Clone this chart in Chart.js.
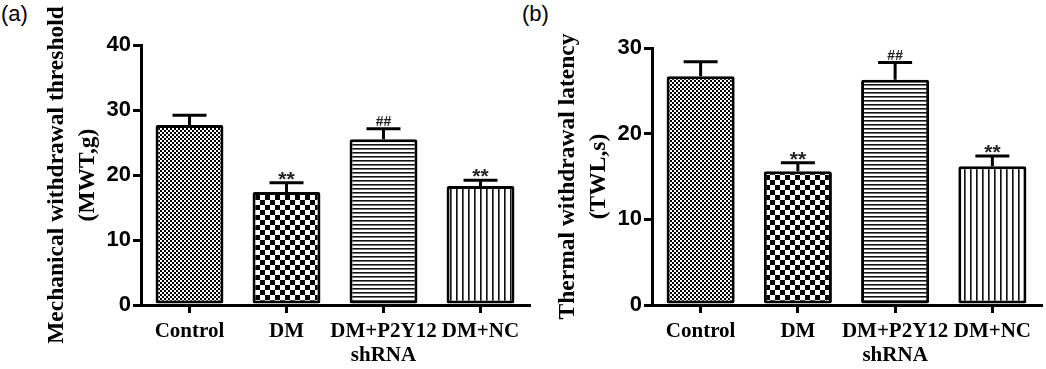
<!DOCTYPE html>
<html>
<head>
<meta charset="utf-8">
<script src="https://cdn.jsdelivr.net/npm/chart.js@4.4.1/dist/chart.umd.min.js"></script>
<style>
  body { margin: 0; background: #fff; width: 1046px; height: 369px; overflow: hidden; position: relative; }
  canvas { position: absolute; top: 0; }
  .tag { position: absolute; top: 1px; font: 22px "Liberation Sans", Arial, sans-serif; color: #000; }
</style>
</head>
<body>
<div class="tag" style="left:1px">(a)</div>
<div class="tag" style="left:522px">(b)</div>
<canvas id="mwt" width="540" height="369" style="left:0"></canvas>
<canvas id="twl" width="526" height="369" style="left:520px"></canvas>
<script>
// groups on the x axis
const groups = ['Control', 'DM', ['DM+P2Y12', 'shRNA'], 'DM+NC'];

// (a) mechanical withdrawal threshold, g
const mwtMean = [27.7, 17.4, 25.5, 18.3];
const mwtSem = [1.5, 1.4, 1.6, 0.9];
const mwtMarks = ['', '**', '##', '**'];
const mwtTicks = [0, 10, 20, 30, 40];

// (b) thermal withdrawal latency, s
const twlMean = [26.7, 15.6, 26.3, 16.2];
const twlSem = [1.7, 1.0, 2.0, 1.2];
const twlMarks = ['', '**', '##', '**'];
const twlTicks = [0, 10, 20, 30];

// hatch fills like the original figure
function makePattern(kind) {
  const c = document.createElement('canvas');
  const g = c.getContext('2d');
  if (kind === 'fine') {
    c.width = 4; c.height = 4;
    g.fillStyle = '#000'; g.fillRect(0, 0, 4, 4);
    g.fillStyle = '#fff'; g.fillRect(0, 0, 2, 2); g.fillRect(2, 2, 2, 2);
  } else if (kind === 'check') {
    c.width = 10; c.height = 10;
    g.fillStyle = '#fff'; g.fillRect(0, 0, 10, 10);
    g.fillStyle = '#000'; g.fillRect(0, 0, 5, 5); g.fillRect(5, 5, 5, 5);
  } else if (kind === 'hlines') {
    c.width = 4; c.height = 4;
    g.fillStyle = '#fff'; g.fillRect(0, 0, 4, 4);
    g.fillStyle = '#111'; g.fillRect(0, 0, 4, 1);
    g.fillStyle = '#777'; g.fillRect(0, 1, 4, 1);
  } else {
    c.width = 6; c.height = 6;
    g.fillStyle = '#fff'; g.fillRect(0, 0, 6, 6);
    g.fillStyle = '#111'; g.fillRect(0, 0, 1, 6);
    g.fillStyle = '#666'; g.fillRect(1, 0, 1, 6);
  }
  return g.createPattern(c, 'repeat');
}
const fills = ['fine', 'check', 'hlines', 'vlines'].map(makePattern);

// error bars + significance marks
const errBars = {
  id: 'errBars',
  afterDatasetsDraw(chart, args, opts) {
    const { ctx } = chart;
    const y = chart.scales.y;
    const meta = chart.getDatasetMeta(0);
    const means = chart.data.datasets[0].data;
    ctx.save();
    ctx.strokeStyle = '#000';
    ctx.lineWidth = 3;
    meta.data.forEach((bar, i) => {
      const top = y.getPixelForValue(means[i]);
      const cap = y.getPixelForValue(means[i] + opts.sem[i]);
      ctx.beginPath();
      ctx.moveTo(bar.x, top);
      ctx.lineTo(bar.x, cap);
      ctx.moveTo(bar.x - 17, cap);
      ctx.lineTo(bar.x + 17, cap);
      ctx.stroke();
      const m = opts.marks[i];
      if (m) {
        ctx.fillStyle = '#222';
        ctx.textAlign = 'center';
        ctx.textBaseline = 'alphabetic';
        if (m === '**') {
          ctx.font = 'bold 21px "Liberation Sans", Arial, sans-serif';
          ctx.fillText(m, bar.x, cap + 3);
        } else {
          ctx.font = 'bold 14px "Liberation Sans", Arial, sans-serif';
          ctx.fillText(m, bar.x, cap - 3);
        }
      }
    });
    ctx.restore();
  }
};

function makeChart(id, means, sem, marks, ticks, title, yWidth, titlePad, pad) {
  return new Chart(document.getElementById(id), {
    type: 'bar',
    data: {
      labels: groups,
      datasets: [{
        data: means,
        backgroundColor: fills,
        borderColor: '#000',
        borderWidth: 3,
        borderRadius: 2,
        borderSkipped: false,
        barPercentage: 0.7,
        categoryPercentage: 1.0
      }]
    },
    options: {
      responsive: false,
      animation: false,
      events: [],
      layout: { padding: pad },
      plugins: {
        legend: { display: false },
        tooltip: { enabled: false },
        errBars: { sem: sem, marks: marks }
      },
      scales: {
        x: {
          offset: true,
          grid: { offset: false, drawOnChartArea: false, color: '#000', lineWidth: 3, tickLength: 8 },
          border: { display: true, color: '#000', width: 3 },
          ticks: {
            color: '#000',
            padding: 7,
            maxRotation: 0,
            autoSkip: false,
            font: { family: '"Liberation Serif", "Times New Roman", serif', size: 21, weight: 'bold', lineHeight: 1.12 }
          },
          afterFit(s) { s.height = 64; }
        },
        y: {
          min: 0,
          max: ticks[ticks.length - 1],
          afterBuildTicks(s) { s.ticks = ticks.map(v => ({ value: v })); },
          grid: { drawOnChartArea: false, color: '#000', lineWidth: 3, tickLength: 8 },
          border: { display: true, color: '#000', width: 3 },
          ticks: {
            color: '#000',
            padding: 2,
            font: { family: '"Liberation Sans", Arial, sans-serif', size: 22, weight: 'bold' }
          },
          title: {
            display: true,
            text: title,
            color: '#000',
            padding: { top: titlePad, bottom: 0 },
            font: { family: '"Liberation Serif", "Times New Roman", serif', size: 23.5, weight: 'bold', lineHeight: 1.32 }
          },
          afterFit(s) { s.width = yWidth; }
        }
      }
    },
    plugins: [errBars]
  });
}

makeChart('mwt', mwtMean, mwtSem, mwtMarks, mwtTicks,
  ['Mechanical withdrawal threshold', '(MWT,g)'], 141, 41,
  { top: 45, right: 11, bottom: 0, left: 0 });
makeChart('twl', twlMean, twlSem, twlMarks, twlTicks,
  ['Thermal withdrawal latency', '(TWL,s)'], 132, 32,
  { top: 48, right: 5, bottom: 0, left: 0 });
</script>
</body>
</html>
